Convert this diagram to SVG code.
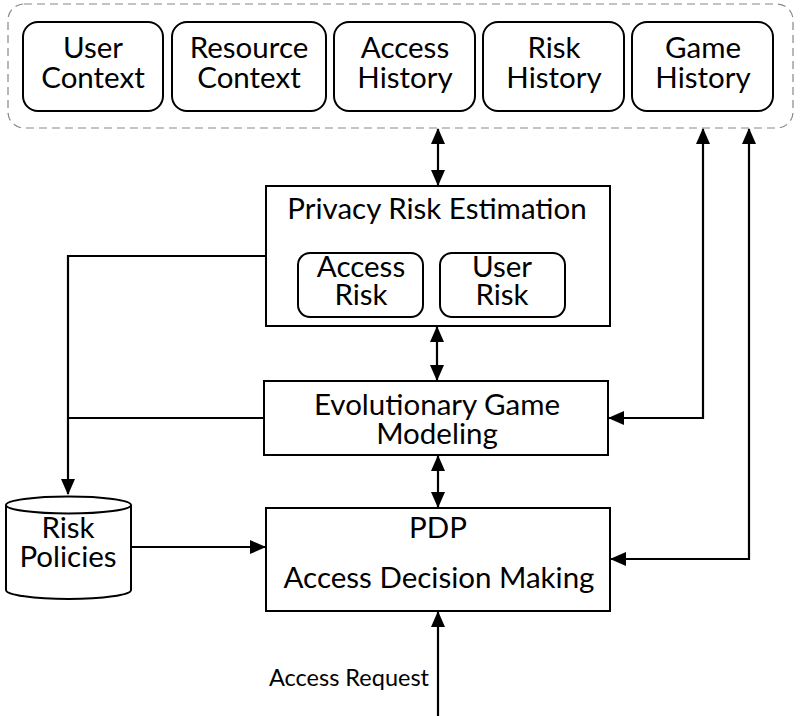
<svg xmlns="http://www.w3.org/2000/svg" width="802" height="716" viewBox="0 0 802 716">
<style>
text{font-family:Lato,"Open Sans","Liberation Sans",sans-serif;fill:#000;text-anchor:middle}
.t{font-size:29.5px}
.s{font-size:23.5px}
.box{fill:#fff;stroke:#000;stroke-width:2}
.ln{fill:none;stroke:#000;stroke-width:2.2}
</style>
<defs>
<marker id="ah" markerUnits="userSpaceOnUse" markerWidth="16" markerHeight="16" viewBox="0 0 16 16" refX="15" refY="8" orient="auto-start-reverse">
<path d="M0,1 L16,8 L0,15 Z" fill="#000"/>
</marker>
</defs>
<rect x="8" y="4" width="785" height="124" rx="16" fill="none" stroke="#888" stroke-width="1.2" stroke-dasharray="8,5"/>
<g id="user-context"><rect class="box" x="23" y="22" width="140" height="89" rx="15"/><text class="t" x="93" y="58">User</text><text class="t" x="93" y="88">Context</text></g>
<g id="resource-context"><rect class="box" x="172" y="22" width="154" height="89" rx="15"/><text class="t" x="249" y="58">Resource</text><text class="t" x="249" y="88">Context</text></g>
<g id="access-history"><rect class="box" x="334" y="22" width="141" height="89" rx="15"/><text class="t" x="405" y="58">Access</text><text class="t" x="405" y="88">History</text></g>
<g id="risk-history"><rect class="box" x="483" y="22" width="141" height="89" rx="15"/><text class="t" x="554" y="58">Risk</text><text class="t" x="554" y="88">History</text></g>
<g id="game-history"><rect class="box" x="632" y="22" width="141" height="89" rx="15"/><text class="t" x="703" y="58">Game</text><text class="t" x="703" y="88">History</text></g>
<g id="privacy-risk-estimation"><rect class="box" x="266" y="186" width="344" height="140"/><text class="t" x="437" y="219">Privacy Risk Estimation</text>
<g id="access-risk"><rect class="box" x="298" y="253" width="125" height="64" rx="12"/><text class="t" x="361" y="277">Access</text><text class="t" x="361" y="305">Risk</text></g>
<g id="user-risk"><rect class="box" x="440" y="253" width="125" height="64" rx="12"/><text class="t" x="502" y="277">User</text><text class="t" x="502" y="305">Risk</text></g>
</g>
<g id="evolutionary-game-modeling"><rect class="box" x="264" y="381" width="344" height="74"/><text class="t" x="437" y="415">Evolutionary Game</text><text class="t" x="437" y="444">Modeling</text></g>
<g id="pdp"><rect class="box" x="266" y="508" width="344" height="103"/><text class="t" x="438" y="538">PDP</text><text class="t" x="439" y="588">Access Decision Making</text></g>
<g id="risk-policies">
<path class="box" d="M6,505 L6,590 A62.5,9 0 0 0 131,590 L131,505"/>
<ellipse class="box" cx="68.5" cy="505" rx="62.5" ry="8.5"/>
<text class="t" x="68" y="538">Risk</text><text class="t" x="68" y="567">Policies</text>
</g>
<g id="connectors">
<line class="ln" x1="438" y1="129" x2="438" y2="185" marker-start="url(#ah)" marker-end="url(#ah)"/>
<line class="ln" x1="437" y1="327" x2="437" y2="380" marker-start="url(#ah)" marker-end="url(#ah)"/>
<line class="ln" x1="438" y1="456" x2="438" y2="507" marker-start="url(#ah)" marker-end="url(#ah)"/>
<polyline class="ln" points="266,256 68,256 68,494" marker-end="url(#ah)"/>
<line class="ln" x1="264" y1="418" x2="68" y2="418"/>
<line class="ln" x1="131" y1="547" x2="265" y2="547" marker-end="url(#ah)"/>
<polyline class="ln" points="703,129 703,418 609,418" marker-start="url(#ah)" marker-end="url(#ah)"/>
<polyline class="ln" points="749,129 749,559 611,559" marker-start="url(#ah)" marker-end="url(#ah)"/>
<line class="ln" x1="438" y1="716" x2="438" y2="612" marker-end="url(#ah)"/>
<text class="s" x="349" y="686">Access Request</text>
</g>
</svg>
